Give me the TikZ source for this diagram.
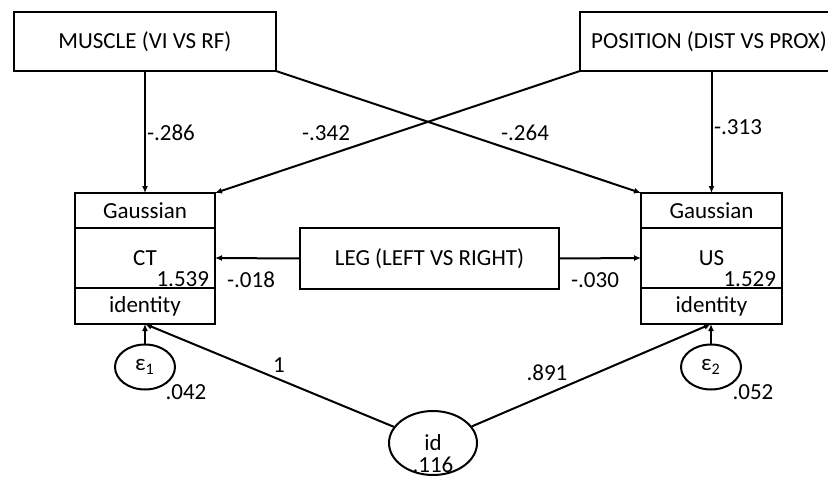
\documentclass[tikz,border=0pt]{standalone}
\usepackage{fontspec}
\setmainfont{Carlito}
\usetikzlibrary{shapes.geometric}
\usetikzlibrary{arrows.meta}
\usetikzlibrary{positioning}

\begin{document}
\begin{tikzpicture}[x=0.5pt, y=-0.5pt, line width=1pt,
    font=\fontsize{11.5}{14}\selectfont,
    box/.style={draw, rectangle, inner sep=0pt, outer sep=0pt,
      minimum width=70pt},
    err/.style={draw, ellipse, inner sep=0pt, minimum width=30pt,
      minimum height=22.5pt},
    coef/.style={inner sep=0pt},
    >={Latex[length=3.5pt, width=3pt]}]
    \useasboundingbox (0,0) rectangle (828,476);
    \node (x0) [box, minimum width=131pt, minimum height=29.5pt] at (145,41.5)
    {MUSCLE (VI VS RF)}; \node (x1) [box, minimum width=129pt, minimum
    height=29.5pt] at (709,41.5) {POSITION (DIST VS PROX)}; \node (x2) [box,
    minimum width=129.5pt, minimum height=30.5pt] at (429.5,258.5) {LEG (LEFT
    VS RIGHT)};
    \node (g0) [box, minimum height=17.5pt] at (145,210.5) {Gaussian}; \node
    (y0) [box, minimum height=30pt, below=0pt of g0] {CT}; \node (i0) [box,
    minimum height=18pt, below=0pt of y0] {identity};
    \node (g1) [box, minimum width=70.5pt, minimum height=17.5pt] at
    (711.5,210.5) {Gaussian}; \node (y1) [box, minimum width=70.5pt, minimum
    height=30pt, below=0pt of g1] {US}; \node (i1) [box, minimum width=70.5pt,
    minimum height=18pt, below=0pt of y1] {identity};
    \node (v0) [anchor=south east, inner xsep=2.5pt, inner ysep=0.4pt] at
    (y0.south east) {1.539}; \node (v1) [anchor=south east, inner xsep=2.5pt,
    inner ysep=0.4pt] at (y1.south east) {1.529};
    \node (e0) [err] at (145,367) {ε\textsubscript{1}}; \node (e1) [err] at
    (711,367) {ε\textsubscript{2}}; \node (id) [draw, ellipse, inner sep=0pt,
    minimum width=44pt, minimum height=32pt] at (433,443) {id}; \node (v2)
    [coef] at (433,465) {.116}; \node (v3) [coef] at (186,392) {.042}; \node
    (v4) [coef] at (753,392) {.052};
    \draw[->] (x0.south) -- (g0.north); \draw[->] (x0.south east) --
    (g1.north west); \draw[->] (x1.south west) -- (g0.north east); \draw[->]
    (g1.north |- x1.south) -- (g1.north);
    \draw[->] (x2.west) -- (y0.east); \draw[->] (x2.east) -- (y1.west);
    \draw[->] (e0) -- (i0.south); \draw[->] (e1) -- (i1.south -| e1);
    \draw[->] (id) -- (i0.south); \draw[->] (id) -- (i1.south -| e1);
    \node (c0) [coef] at (171,133) {-.286}; \node (c1) [coef] at (326,133)
    {-.342}; \node (c2) [coef] at (525,133) {-.264}; \node (c3) [coef] at
    (738,127) {-.313}; \node (c4) [coef] at (251,280) {-.018}; \node (c5)
    [coef] at (595,280) {-.030}; \node (c6) [coef] at (279,365) {1}; \node
    (c7) [coef] at (547,373) {.891};
  \end{tikzpicture}
\end{document}
